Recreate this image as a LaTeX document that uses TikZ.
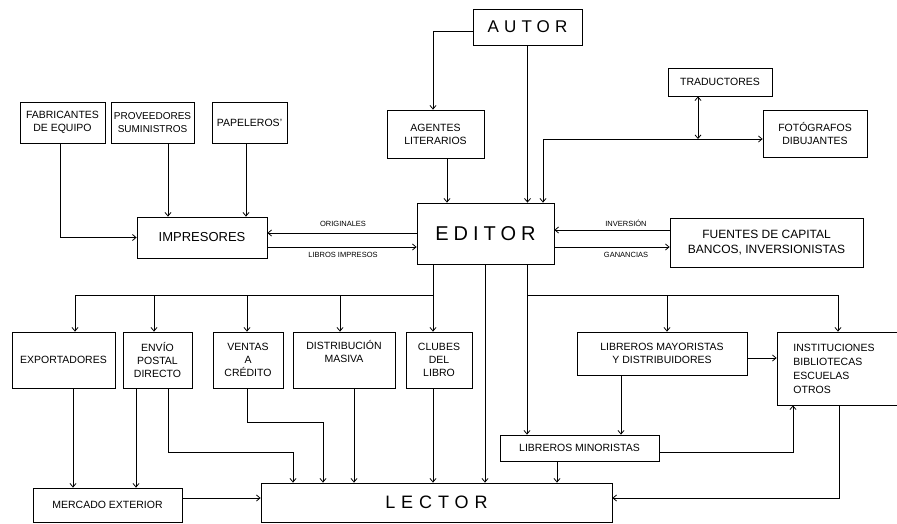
\documentclass[tikz,border=0pt]{standalone}
\usepackage{fontspec}
\setmainfont{Liberation Sans}
\usetikzlibrary{arrows.meta}
\newcommand\fsmall{\fontsize{10.5}{13}\selectfont}
\newcommand\ftop{\fontsize{10.5}{13}\selectfont}
\newcommand\ftiny{\fontsize{7.5}{9}\selectfont}
\newcommand\fcap{\fontsize{12}{15}\selectfont}
\begin{document}
\begin{tikzpicture}[x=1pt,y=-1pt,
  box/.style={draw, line width=0.8pt, rectangle, inner sep=0pt, align=center, font=\fsmall},
  conn/.style={line width=0.8pt},
  arr/.style={conn, -{Straight Barb[length=3.5pt,width=6pt]}},
  arrboth/.style={conn, {Straight Barb[length=3.5pt,width=6pt]}-{Straight Barb[length=3.5pt,width=6pt]}},
  lbl/.style={font=\ftiny, inner sep=0pt}]
\useasboundingbox (0,0) rectangle (897,524);
\fill[white] (0,0) rectangle (897,524);

% ---------- nodes ----------
\node[box, minimum width=109pt, minimum height=36pt,
  font={\fontsize{17}{20}\selectfont\addfontfeatures{LetterSpace=30}}] (autor) at (527.5,27) {AUTOR};
\node[box, minimum width=97pt, minimum height=48pt] (agentes) at (435.5,134) {AGENTES\\LITERARIOS};
\node[box, minimum width=137pt, minimum height=61pt,
  font={\fontsize{20}{24}\selectfont\addfontfeatures{LetterSpace=25}}] (editor) at (485.5,233.5) {EDITOR};
\node[box, minimum width=104pt, minimum height=28pt] (trad) at (720,82) {TRADUCTORES};
\node[box, minimum width=104pt, minimum height=47pt] (foto) at (815,133.5) {FOTÓGRAFOS\\DIBUJANTES};
\node[box, minimum width=193pt, minimum height=49pt, font=\fcap] (fuentes) at (766.5,242.5) {FUENTES DE CAPITAL\\BANCOS, INVERSIONISTAS};
\node[box, minimum width=130pt, minimum height=41pt, font={\fontsize{13}{16}\selectfont}] (impresores) at (202,237.5) {IMPRESORES};
\node[box, minimum width=85pt, minimum height=41pt, font=\ftop] (fab) at (62.5,122.5) {FABRICANTES\\DE EQUIPO};
\node[box, minimum width=83pt, minimum height=41pt, font={\fontsize{10}{13}\selectfont}] (prov) at (152.5,122.5) {PROVEEDORES\\SUMINISTROS};
\node[box, minimum width=75pt, minimum height=41pt, font=\ftop] (pap) at (249.5,122.5) {PAPELEROS'};

\node[box, minimum width=103pt, minimum height=56pt] (expo) at (63.5,360) {EXPORTADORES};
\node[box, minimum width=69pt, minimum height=56pt] (envio) at (157.5,360) {ENVÍO\\POSTAL\\DIRECTO};
\node[box, minimum width=70pt, minimum height=56pt] (ventas) at (248,360) {VENTAS\\A\\CRÉDITO};
\node[box, minimum width=102pt, minimum height=56pt] (dist) at (344,360) {DISTRIBUCIÓN\\MASIVA\\\strut};
\node[box, minimum width=66pt, minimum height=56pt] (clubes) at (439,360) {CLUBES\\DEL\\LIBRO};
\node[box, minimum width=170pt, minimum height=43pt] (mayor) at (662,353.5) {LIBREROS MAYORISTAS\\Y DISTRIBUIDORES};
\node[box, minimum width=122pt, minimum height=73pt, align=left,
  font={\fontsize{10.5}{14}\selectfont}] (inst) at (838,368.5)
  {INSTITUCIONES\hspace*{8pt}\\BIBLIOTECAS\\ESCUELAS\\OTROS};
\node[box, minimum width=159pt, minimum height=26pt] (minor) at (579.5,448) {LIBREROS MINORISTAS};
\node[box, minimum width=351pt, minimum height=39pt,
  font={\fontsize{18}{22}\selectfont\addfontfeatures{LetterSpace=33}}] (lector) at (436.5,502.5) {LECTOR};
\node[box, minimum width=149pt, minimum height=34pt] (mercado) at (107.5,505) {MERCADO EXTERIOR};

% ---------- helper coordinates ----------
\coordinate (jt) at (698,139);
\coordinate (busW) at (433,295);
\coordinate (busE) at (527,295);
\coordinate (yInv) at (0,230);
\coordinate (yGan) at (0,247);
\coordinate (yOri) at (0,233);
\coordinate (yLib) at (0,247);
\coordinate (yLec) at (0,498);
\coordinate (yMay) at (0,358);
\coordinate (yMin) at (0,452);

% ---------- author side ----------
\draw[arr] ([yshift=-4pt]autor.west) -| (433,0 |- agentes.north);
\draw[arr] (autor.south) -- (autor.south |- editor.north);
\draw[arr] (447,0 |- agentes.south) -- (447,0 |- editor.north);

% ---------- translators and illustrators ----------
\draw[arrboth] (543,0 |- editor.north) |- (foto.west |- jt);
\draw[arrboth] (jt) -- (jt |- trad.south);

% ---------- capital ----------
\draw[arr] (fuentes.west |- yInv) -- (editor.east |- yInv);
\draw[arr] (editor.east |- yGan) -- (fuentes.west |- yGan);
\node[lbl] at (626,223) {INVERSIÓN};
\node[lbl] at (626,255) {GANANCIAS};

% ---------- printers ----------
\draw[arr] (editor.west |- yOri) -- (impresores.east |- yOri);
\draw[arr] (impresores.east |- yLib) -- (editor.west |- yLib);
\node[lbl] at (343,224) {ORIGINALES};
\node[lbl] at (343,255) {LIBROS IMPRESOS};
\draw[arr] (60,0 |- fab.south) |- (impresores.west);
\draw[arr] (168,0 |- prov.south) -- (168,0 |- impresores.north);
\draw[arr] (246,0 |- pap.south) -- (246,0 |- impresores.north);

% ---------- distribution channels ----------
\draw[conn] (433,0 |- editor.south) -- (busW) -- (75,295);
\draw[arr] (busW) -- (busW |- clubes.north);
\foreach \x/\n in {75/expo,154/envio,247/ventas,340/dist}
  \draw[arr] (\x,295) -- (\x,0 |- \n.north);
\draw[arr] (485,0 |- editor.south) -- (485,0 |- lector.north);
\draw[conn] (527,0 |- editor.south) -- (busE) -- (838,295);
\draw[arr] (busE) -- (busE |- minor.north);
\draw[arr] (667,295) -- (667,0 |- mayor.north);
\draw[arr] (838,295) -- (838,0 |- inst.north);

% ---------- towards the reader ----------
\draw[arr] (73,0 |- expo.south) -- (73,0 |- mercado.north);
\draw[arr] (136,0 |- envio.south) -- (136,0 |- mercado.north);
\draw[arr] (168,0 |- envio.south) |- (293,452) -- (293,0 |- lector.north);
\draw[arr] (247,0 |- ventas.south) |- (323,422) -- (323,0 |- lector.north);
\draw[arr] (354,0 |- dist.south) -- (354,0 |- lector.north);
\draw[arr] (433,0 |- clubes.south) -- (433,0 |- lector.north);
\draw[arr] (mercado.east |- yLec) -- (lector.west |- yLec);
\draw[arr] (621,0 |- mayor.south) -- (621,0 |- minor.north);
\draw[arr] (mayor.east |- yMay) -- (inst.west |- yMay);
\draw[arr] (minor.east |- yMin) -| (793,0 |- inst.south);
\draw[arr] (557,0 |- minor.south) -- (557,0 |- lector.north);
\draw[arr] (839,0 |- inst.south) |- (lector.east |- yLec);
\end{tikzpicture}
\end{document}
